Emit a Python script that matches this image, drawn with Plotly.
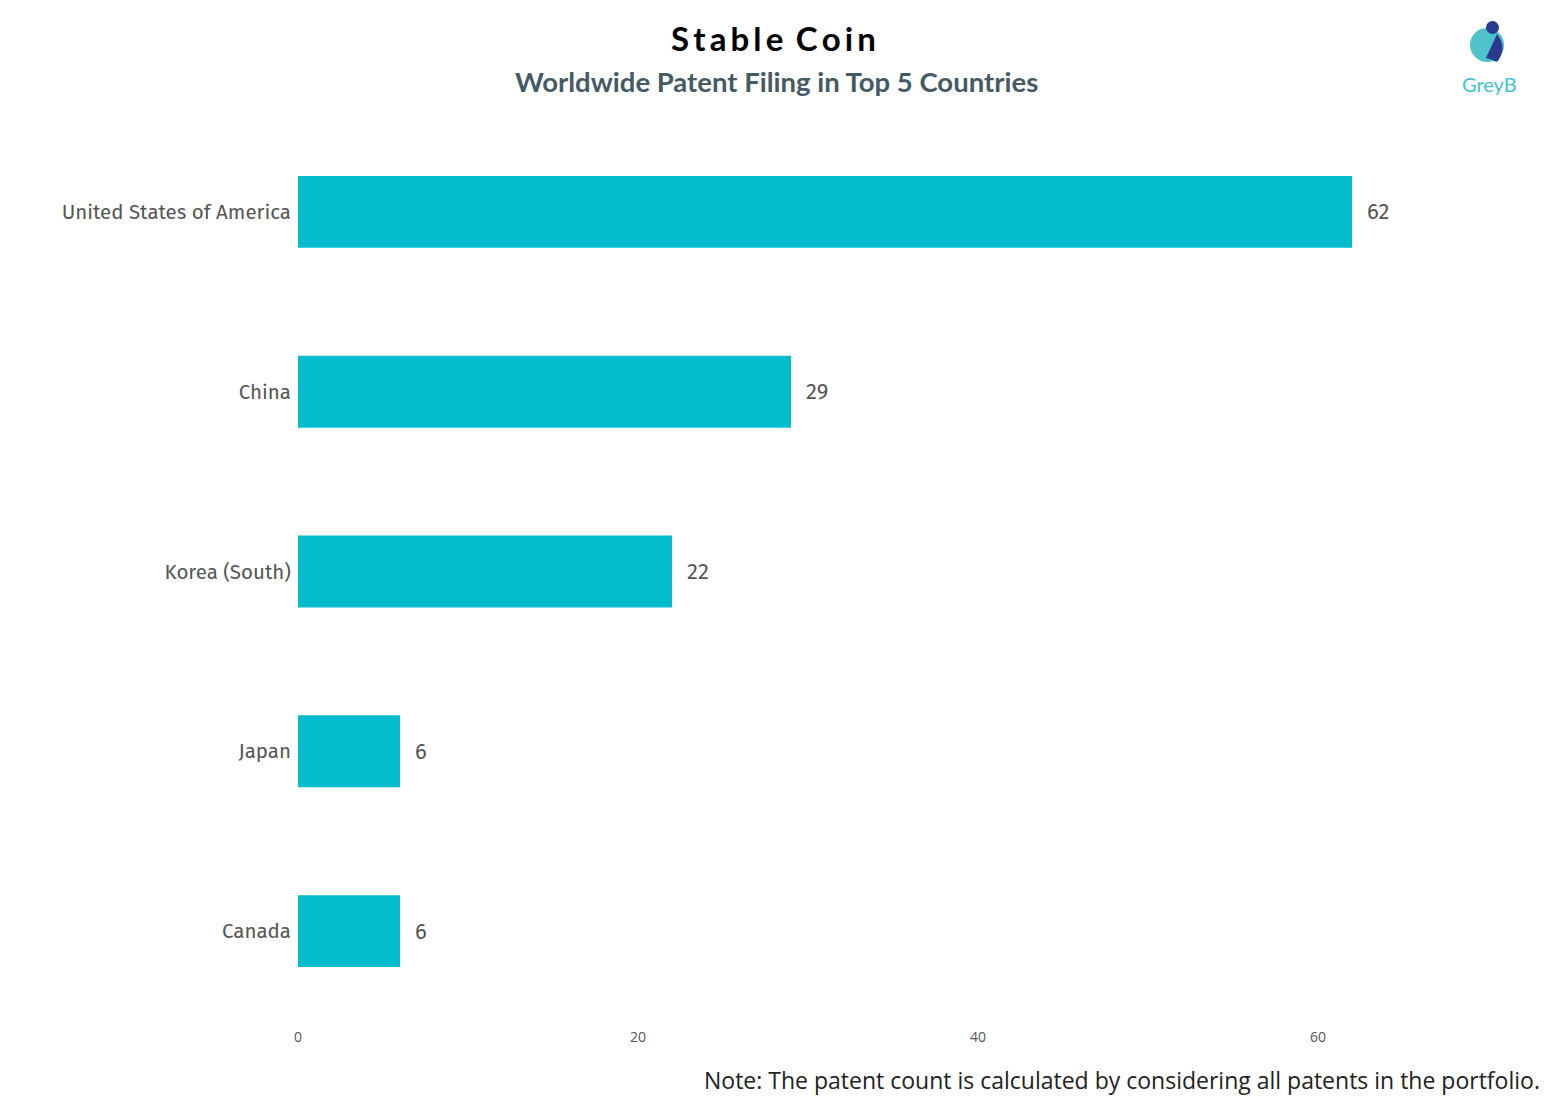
import plotly.graph_objects as go

countries = ["United States of America", "China", "Korea (South)", "Japan", "Canada"]
counts = [62, 29, 22, 6, 6]
tick_vals = [0, 20, 40, 60]
tick_text = ["0", "20", "40", "60"]

W, H = 1550, 1100
ml, mr, mt, mb = 298, 20, 122, 79
px_per_unit = 17.0
xmax = (W - ml - mr) / px_per_unit

fig = go.Figure()
fig.add_trace(go.Bar(
    x=counts, y=countries, orientation="h",
    marker=dict(color="#03bccd", line=dict(width=0)),
    width=0.4,
    cliponaxis=False,
    hoverinfo="skip",
))

# value labels
for c, v in zip(countries, counts):
    fig.add_annotation(x=v, y=c, xref="x", yref="y", text=str(v), showarrow=False,
                       xanchor="left", yanchor="middle", xshift=13,
                       font=dict(family="Fira Sans, Noto Sans, sans-serif", size=22, color="#555555"))

hs = "\u200a"
title = (hs * 2).join("Stable") + hs * 6 + (hs * 2).join("Coin")

def px(x):
    return (x - ml) / (W - ml - mr)
def py(y):
    return ((H - y) - mb) / (H - mt - mb)

fig.update_layout(
    width=W, height=H,
    margin=dict(l=ml, r=mr, t=mt, b=mb, pad=0),
    plot_bgcolor="white", paper_bgcolor="white",
    showlegend=False,
    xaxis=dict(range=[0, xmax], tickvals=tick_vals, ticktext=tick_text,
               showgrid=False, zeroline=False, showline=False, ticks="",
               tickfont=dict(family="Open Sans, sans-serif", size=14, color="#555555"),
               ticklabelstandoff=6),
    yaxis=dict(categoryorder="array", categoryarray=countries[::-1],
               showgrid=False, zeroline=False, showline=False, ticks="",
               tickfont=dict(family="Fira Sans, Noto Sans, sans-serif", size=20.5, color="#555555"),
               ticklabelstandoff=6),
)

fig.add_annotation(text="<b>" + title + "</b>", x=px(773.5), y=py(38), xref="paper", yref="paper",
                   showarrow=False, font=dict(family="Lato, sans-serif", size=33, color="#000000"),
                   xanchor="center", yanchor="middle")
fig.add_annotation(text="<b>Worldwide Patent Filing in Top 5 Countries</b>", x=px(776), y=py(81),
                   xref="paper", yref="paper", showarrow=False,
                   font=dict(family="Lato, sans-serif", size=27.5, color="#455a64"),
                   xanchor="center", yanchor="middle")
fig.add_annotation(text="Note: The patent count is calculated by considering all patents in the portfolio.",
                   x=px(1542), y=py(1080), xref="paper", yref="paper", showarrow=False,
                   font=dict(family="Open Sans, sans-serif", size=23, color="#222222"),
                   xanchor="right", yanchor="middle")
fig.add_annotation(text="GreyB", x=px(1489), y=py(84), xref="paper", yref="paper", showarrow=False,
                   font=dict(family="Lato, sans-serif", size=20, color="#3ec4cf"),
                   xanchor="center", yanchor="middle")

# logo shapes
fig.add_shape(type="circle", xref="paper", yref="paper",
              x0=px(1470), x1=px(1504), y0=py(62), y1=py(28),
              fillcolor="#4fc3cc", line=dict(width=0))
fig.add_shape(type="path", xref="paper", yref="paper",
              path=f"M {px(1497)},{py(34)} Q {px(1508)},{py(48)} {px(1497)},{py(62)} L {px(1486)},{py(58)} Z",
              fillcolor="#2b3a8f", line=dict(width=0))
fig.add_shape(type="path", xref="paper", yref="paper",
              path=f"M {px(1487)},{py(58)} Q {px(1497)},{py(66)} {px(1503)},{py(55)} L {px(1497)},{py(62)} Z",
              fillcolor="#4fc3cc", line=dict(width=0))
fig.add_shape(type="circle", xref="paper", yref="paper",
              x0=px(1486), x1=px(1499), y0=py(34), y1=py(21),
              fillcolor="#2b3a8f", line=dict(width=0))

fig.write_html("out.html", config={"displayModeBar": False},
               post_script="document.body.style.margin='0';document.body.style.padding='0';")
